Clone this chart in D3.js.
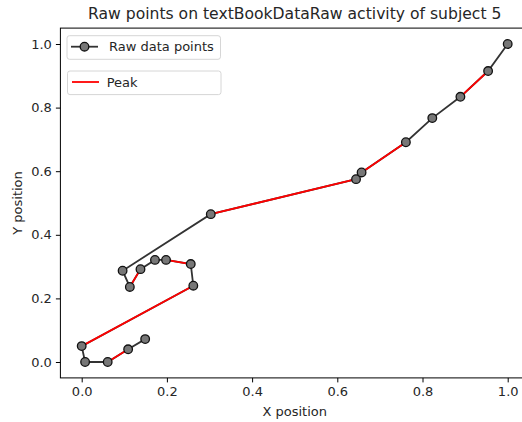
<!DOCTYPE html>
<html>
<head>
<meta charset="utf-8">
<script src="https://cdn.jsdelivr.net/npm/d3@7"></script>
<style>
  body { margin: 0; background: #fff; }
  text { font-family: "DejaVu Sans", sans-serif; fill: #262626; }
</style>
</head>
<body>
<div id="chart"></div>
<script>
// raw trajectory, in drawing order
const xs = [0.149, 0.109, 0.061, 0.008, 0.0, 0.262, 0.256, 0.198, 0.172, 0.138,
            0.113, 0.096, 0.303, 0.644, 0.657, 0.761, 0.823, 0.889, 0.954, 1.0]
const ys = [0.072, 0.040, 0.0, 0.0, 0.050, 0.240, 0.308, 0.321, 0.321, 0.292,
            0.236, 0.287, 0.465, 0.575, 0.596, 0.691, 0.767, 0.834, 0.915, 1.0]
// segments flagged as peak (index pairs into xs/ys)
const peakSegments = [[1, 2], [4, 5], [6, 7], [9, 10], [12, 13], [13, 14], [14, 15], [17, 18]]
const xTicks = [0, 0.2, 0.4, 0.6, 0.8, 1.0]
const yTicks = [0, 0.2, 0.4, 0.6, 0.8, 1.0]

const width = 522, height = 422
const mLeft = 60.4, mRight = 529, mTop = 28.1, mBottom = 377.9
const fs = '13px'

const svg = d3.select('#chart').append('svg')
  .attr('width', width)
  .attr('height', height)

const x = d3.scaleLinear().domain([-0.05, 1.05]).range([mLeft, mRight])
const y = d3.scaleLinear().domain([-0.05, 1.05]).range([mBottom, mTop])

// title
svg.append('text')
  .attr('x', (mLeft + mRight) / 2)
  .attr('y', 18.5)
  .attr('text-anchor', 'middle')
  .style('font-size', '15.6px')
  .text('Raw points on textBookDataRaw activity of subject 5')

// axes
const xAxis = svg.append('g')
  .attr('transform', `translate(0, ${mBottom})`)
  .call(d3.axisBottom(x).tickValues(xTicks).tickFormat(d3.format('.1f')).tickSizeOuter(0).tickSize(4.5).tickPadding(4))
const yAxis = svg.append('g')
  .attr('transform', `translate(${mLeft}, 0)`)
  .call(d3.axisLeft(y).tickValues(yTicks).tickFormat(d3.format('.1f')).tickSizeOuter(0).tickSize(4.5).tickPadding(4))

;[xAxis, yAxis].forEach(a => {
  a.select('.domain').remove()
  a.selectAll('line').attr('stroke', '#000').attr('stroke-width', 1)
  a.selectAll('text').style('font-size', fs).style('font-family', '"DejaVu Sans", sans-serif').attr('fill', '#262626')
})

// frame
svg.append('rect')
  .attr('x', mLeft).attr('y', mTop)
  .attr('width', mRight - mLeft).attr('height', mBottom - mTop)
  .attr('fill', 'none').attr('stroke', '#000').attr('stroke-width', 1)

svg.append('text')
  .attr('x', (mLeft + mRight) / 2)
  .attr('y', 416)
  .attr('text-anchor', 'middle')
  .style('font-size', fs)
  .text('X position')

svg.append('text')
  .attr('transform', `translate(21.5, ${(mTop + mBottom) / 2}) rotate(-90)`)
  .attr('text-anchor', 'middle')
  .style('font-size', fs)
  .text('Y position')

// data
const pts = xs.map((d, i) => [d, ys[i]])
const line = d3.line().x(d => x(d[0])).y(d => y(d[1]))

const plot = svg.append('g')

plot.append('path')
  .attr('d', line(pts))
  .attr('fill', 'none')
  .attr('stroke', '#333')
  .attr('stroke-width', 1.8)

plot.selectAll('.peak')
  .data(peakSegments)
  .enter()
  .append('path')
  .attr('class', 'peak')
  .attr('d', d => line([pts[d[0]], pts[d[1]]]))
  .attr('fill', 'none')
  .attr('stroke', 'red')
  .attr('stroke-width', 1.8)

plot.selectAll('circle')
  .data(pts)
  .enter()
  .append('circle')
  .attr('cx', d => x(d[0]))
  .attr('cy', d => y(d[1]))
  .attr('r', 4.3)
  .attr('fill', '#777')
  .attr('stroke', '#111')
  .attr('stroke-width', 1.3)

// legends
const leg1 = svg.append('g')
leg1.append('rect')
  .attr('x', 67).attr('y', 35.7).attr('width', 153.5).attr('height', 23.6).attr('rx', 2.5)
  .attr('fill', '#fff').attr('stroke', '#d6d6d6').attr('stroke-width', 1)
leg1.append('line')
  .attr('x1', 71).attr('x2', 98).attr('y1', 46.7).attr('y2', 46.7)
  .attr('stroke', '#333').attr('stroke-width', 1.8)
leg1.append('circle')
  .attr('cx', 84.5).attr('cy', 46.7).attr('r', 4.3)
  .attr('fill', '#777').attr('stroke', '#111').attr('stroke-width', 1.3)
leg1.append('text')
  .attr('x', 109).attr('y', 51.3)
  .style('font-size', fs)
  .text('Raw data points')

const leg2 = svg.append('g')
leg2.append('rect')
  .attr('x', 67.5).attr('y', 71).attr('width', 153.5).attr('height', 23.6).attr('rx', 2.5)
  .attr('fill', '#fff').attr('stroke', '#d6d6d6').attr('stroke-width', 1)
leg2.append('line')
  .attr('x1', 72).attr('x2', 99).attr('y1', 82).attr('y2', 82)
  .attr('stroke', 'red').attr('stroke-width', 1.8)
leg2.append('text')
  .attr('x', 106.7).attr('y', 86.6)
  .style('font-size', fs)
  .text('Peak')
</script>
</body>
</html>
